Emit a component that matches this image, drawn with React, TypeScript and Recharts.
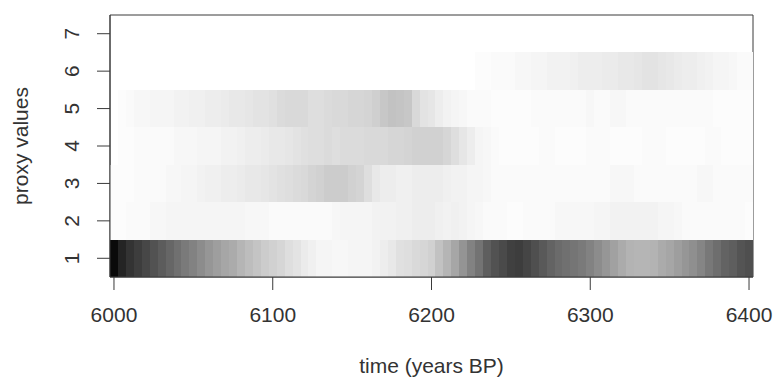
import React from 'react';
import { ComposedChart, XAxis, YAxis, ReferenceArea } from 'recharts';

// time steps (years BP), one cell every 5 years
const years = [
  6000, 6005, 6010, 6015, 6020, 6025, 6030, 6035, 6040, 6045,
  6050, 6055, 6060, 6065, 6070, 6075, 6080, 6085, 6090, 6095,
  6100, 6105, 6110, 6115, 6120, 6125, 6130, 6135, 6140, 6145,
  6150, 6155, 6160, 6165, 6170, 6175, 6180, 6185, 6190, 6195,
  6200, 6205, 6210, 6215, 6220, 6225, 6230, 6235, 6240, 6245,
  6250, 6255, 6260, 6265, 6270, 6275, 6280, 6285, 6290, 6295,
  6300, 6305, 6310, 6315, 6320, 6325, 6330, 6335, 6340, 6345,
  6350, 6355, 6360, 6365, 6370, 6375, 6380, 6385, 6390, 6395,
  6400,
];

// probability (%) of each proxy value at each time step
const proxy1 = [
  96, 86, 80, 76, 72, 68, 64, 60, 56, 52, 49, 45, 41, 38, 35, 33, 29, 26, 23, 20,
  18, 16, 13, 11, 8, 6, 4, 4, 3, 3, 4, 4, 4, 5, 7, 9, 12, 13, 15, 16,
  18, 24, 29, 35, 42, 49, 55, 63, 68, 71, 75, 76, 73, 69, 65, 61, 58, 56, 54, 52,
  49, 45, 41, 37, 33, 30, 29, 29, 30, 33, 35, 38, 41, 44, 48, 53, 57, 61, 63, 67, 69,
];
const proxy2 = [
  1, 1, 2, 2, 2, 3, 3, 4, 4, 4, 4, 4, 4, 4, 4, 4, 4, 3, 3, 3,
  2, 2, 2, 2, 2, 2, 2, 2, 3, 4, 4, 4, 4, 5, 5, 5, 6, 6, 7, 7,
  7, 6, 5, 6, 5, 4, 3, 2, 2, 2, 1, 1, 2, 2, 2, 2, 3, 3, 3, 3,
  3, 4, 4, 5, 5, 5, 5, 5, 5, 4, 4, 3, 2, 2, 2, 2, 2, 2, 2, 2, 1,
];
const proxy3 = [
  1, 1, 1, 2, 2, 2, 2, 3, 3, 4, 4, 5, 6, 6, 7, 7, 8, 9, 9, 10,
  11, 12, 13, 14, 15, 17, 18, 20, 20, 20, 18, 17, 13, 9, 7, 7, 6, 6, 7, 7,
  7, 7, 6, 5, 5, 4, 4, 3, 2, 2, 2, 2, 2, 2, 2, 2, 2, 2, 2, 2,
  2, 2, 2, 3, 3, 3, 2, 2, 2, 2, 2, 2, 2, 2, 3, 3, 2, 2, 2, 2, 2,
];
const proxy4 = [
  0, 1, 1, 2, 2, 2, 2, 2, 3, 3, 3, 4, 4, 4, 5, 5, 6, 7, 7, 8,
  9, 9, 10, 11, 12, 13, 13, 14, 13, 14, 14, 14, 15, 15, 15, 16, 16, 17, 18, 18,
  18, 18, 16, 13, 10, 7, 4, 3, 2, 1, 1, 1, 1, 1, 2, 2, 1, 1, 1, 1,
  2, 2, 2, 1, 1, 1, 1, 2, 2, 2, 1, 1, 1, 1, 1, 2, 2, 1, 1, 1, 1,
];
const proxy5 = [
  0, 1, 2, 3, 3, 4, 4, 4, 5, 5, 6, 6, 7, 7, 8, 9, 9, 10, 11, 11,
  12, 14, 15, 15, 15, 13, 13, 14, 15, 15, 16, 16, 17, 19, 22, 24, 23, 22, 15, 11,
  10, 7, 5, 4, 3, 2, 2, 2, 1, 1, 1, 1, 1, 2, 2, 2, 2, 2, 2, 2,
  3, 2, 2, 3, 3, 2, 2, 2, 2, 2, 2, 2, 2, 2, 2, 2, 1, 1, 1, 1, 1,
];
const proxy6 = [
  0, 0, 0, 0, 0, 0, 0, 0, 0, 0, 0, 0, 0, 0, 0, 0, 0, 0, 0, 0,
  0, 0, 0, 0, 0, 0, 0, 0, 0, 0, 0, 0, 0, 0, 0, 0, 0, 0, 0, 0,
  0, 0, 0, 0, 0, 0, 1, 1, 2, 2, 2, 3, 3, 4, 4, 5, 5, 5, 6, 7,
  7, 7, 8, 8, 9, 9, 10, 11, 11, 10, 9, 8, 7, 7, 6, 5, 4, 4, 3, 2, 2,
];

const proxyRows = [proxy1, proxy2, proxy3, proxy4, proxy5, proxy6];
const xTicks = [6000, 6100, 6200, 6300, 6400];
const yTicks = [1, 2, 3, 4, 5, 6, 7];

const FONT = '"Liberation Sans", Arial, Helvetica, sans-serif';
const INK = '#3a3a3a';
const TEXT = '#333';
const FS = 21;

// white -> black grey scale
const shade = (p: number) => {
  const g = Math.round(255 * (1 - p / 100));
  return `rgb(${g},${g},${g})`;
};

const XTick = (props: any) => {
  const { x, y, payload } = props;
  return (
    <text x={x} y={y + 32} textAnchor="middle" fontFamily={FONT} fontSize={FS} fill={TEXT}>
      {payload.value}
    </text>
  );
};

const YTick = (props: any) => {
  const { x, y, payload } = props;
  const bx = x - 18;
  return (
    <text x={bx} y={y} transform={`rotate(-90, ${bx}, ${y})`} textAnchor="middle" fontFamily={FONT} fontSize={FS} fill={TEXT}>
      {payload.value}
    </text>
  );
};

const App = () => {
  const cells = years.flatMap((yr, i) =>
    proxyRows.map((row, k) => ({ yr, value: k + 1, p: row[i] }))
  ).filter(c => c.p > 0);

  return (
    <div style={{ position: 'absolute', left: 0, top: 0, width: 778, height: 382, background: '#fff' }}>
      <ComposedChart width={778} height={382} data={[]} margin={{ top: 15, right: 25, bottom: 0, left: 0 }}>
        <XAxis
          type="number"
          dataKey="yr"
          domain={[5997.5, 6402.5]}
          ticks={xTicks}
          allowDataOverflow
          height={105}
          tickSize={13}
          tickMargin={0}
          stroke={INK}
          tick={<XTick />}
          label={{
            content: (lp: any) => {
              const vb = lp.viewBox;
              return (
                <text x={vb.x + vb.width / 2} y={vb.y + 96} textAnchor="middle" fontFamily={FONT} fontSize={FS} fill={TEXT}>
                  time (years BP)
                </text>
              );
            },
          }}
        />
        <XAxis xAxisId="top" orientation="top" type="number" domain={[5997.5, 6402.5]} height={0} tick={false} tickLine={false} stroke={INK} />
        <YAxis
          type="number"
          domain={[0.5, 7.5]}
          ticks={yTicks}
          allowDataOverflow
          width={110}
          tickSize={13}
          tickMargin={0}
          stroke={INK}
          tick={<YTick />}
          label={{
            content: (lp: any) => {
              const vb = lp.viewBox;
              const cx = vb.x + 28;
              const cy = vb.y + vb.height / 2;
              return (
                <text x={cx} y={cy} transform={`rotate(-90, ${cx}, ${cy})`} textAnchor="middle" fontFamily={FONT} fontSize={FS} fill={TEXT}>
                  proxy values
                </text>
              );
            },
          }}
        />
        <ReferenceArea x1={5997.5} x2={6402.5} y1={0.5} y2={7.5} fill="none" stroke={INK} strokeWidth={1} />
        {cells.map(c => (
          <ReferenceArea
            key={`${c.yr}-${c.value}`}
            x1={c.yr - 2.5}
            x2={c.yr + 2.5}
            y1={c.value - 0.5}
            y2={c.value + 0.5}
            shape={(sp: any) => (
              <rect x={sp.x} y={sp.y} width={sp.width} height={sp.height} fill={shade(c.p)} shapeRendering="crispEdges" />
            )}
          />
        ))}
      </ComposedChart>
    </div>
  );
};

export default App;
